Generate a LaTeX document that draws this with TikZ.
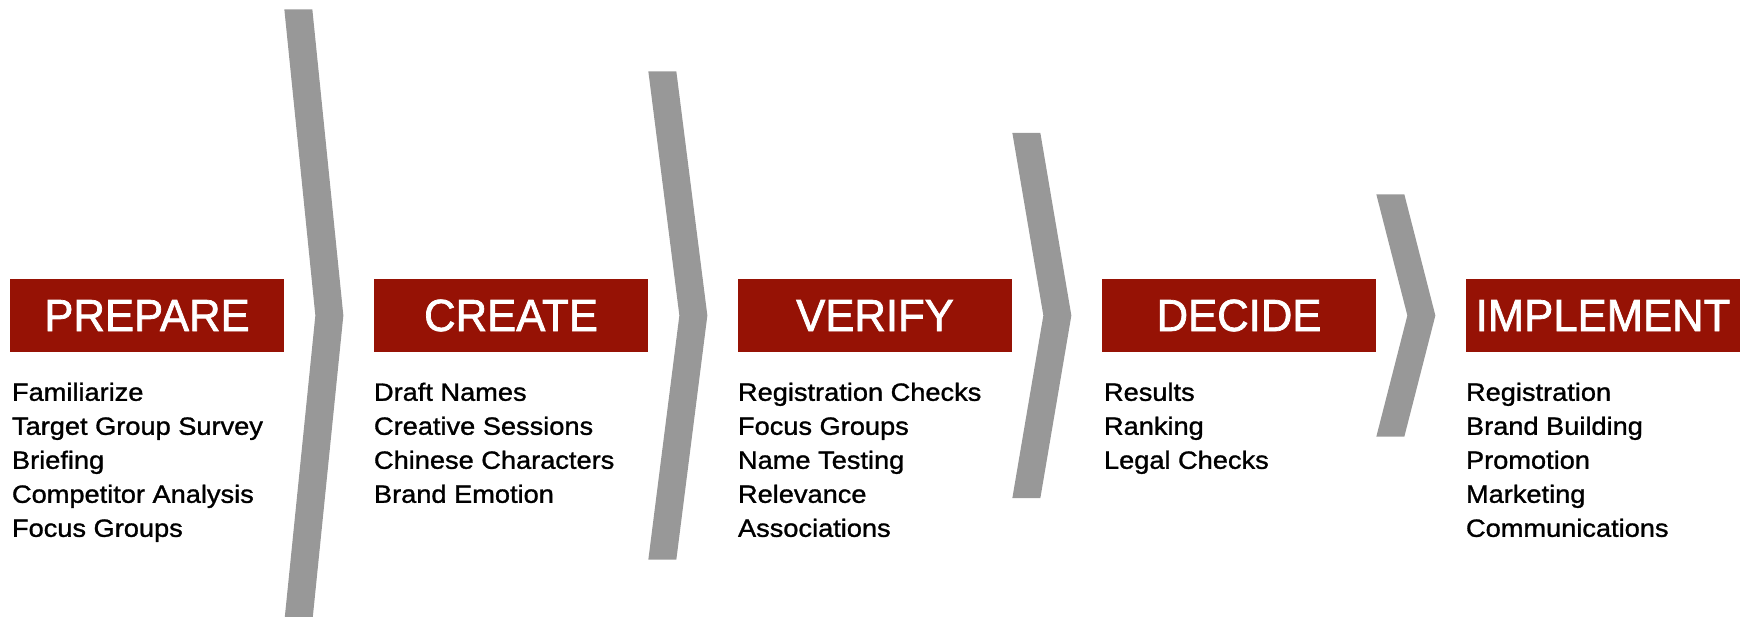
\documentclass[tikz,border=0pt]{standalone}
\usepackage{fontspec}
\setmainfont{Liberation Sans}
\newfontfamily\listfont[FakeStretch=1.09, FakeBold=1.2]{Liberation Sans}
\newfontfamily\phasefont[FakeStretch=0.97, FakeBold=1.6]{Liberation Sans}
\usepackage{xcolor}
\usetikzlibrary{positioning, calc}

\definecolor{boxred}{RGB}{150,18,5}
\definecolor{chevgray}{RGB}{152,152,152}

\begin{document}
\begin{tikzpicture}[
  every node/.style={font=\fontsize{14.2}{19.35}\selectfont},
  phase/.style={fill=boxred, text=white, minimum width=5.48cm, minimum height=1.46cm, inner sep=0pt,
    font=\phasefont\fontsize{25.6}{30}\selectfont, text height=0.65cm, text depth=0.03cm},
  items/.style={align=left, inner sep=0pt, font=\listfont\fontsize{14.2}{19.35}\selectfont},
  chevron/.style={fill=chevgray}
]
\useasboundingbox (0,0) rectangle (34.82,12.32);

% Phase boxes
\node[phase] (prepare) at (2.94, 6.01) {PREPARE};
\node[phase] (create) at (10.22, 6.01) {CREATE};
\node[phase] (verify) at (17.50, 6.01) {VERIFY};
\node[phase] (decide) at (24.78, 6.01) {DECIDE};
\node[phase] (implement) at (32.06, 6.01) {IMPLEMENT};

% Tasks under each phase
\node[items, below right=0.6cm and 0.04cm of prepare.south west] (prepitems)
  {Familiarize\\Target Group Survey\\Briefing\\Competitor Analysis\\Focus Groups};
\node[items, below right=0.6cm and 0cm of create.south west] (createitems)
  {Draft Names\\Creative Sessions\\Chinese Characters\\Brand Emotion};
\node[items, below right=0.6cm and 0cm of verify.south west] (verifyitems)
  {Registration Checks\\Focus Groups\\Name Testing\\Relevance\\Associations};
\node[items, below right=0.6cm and 0.04cm of decide.south west] (decideitems)
  {Results\\Ranking\\Legal Checks};
\node[items, below right=0.6cm and 0cm of implement.south west] (implitems)
  {Registration\\Brand Building\\Promotion\\Marketing\\Communications};

% Chevrons between phases, shorter towards the right
\foreach \a/\h in {prepare/6.12, create/4.88, verify/3.65, decide/2.42}
  \fill[chevron] ($(\a.east)+(0,\h)$) -- ++(0.56,0) -- ($(\a.east)+(1.18,0)$)
    -- ($(\a.east)+(0.56,-\h)$) -- ++(-0.56,0) -- ($(\a.east)+(0.62,0)$) -- cycle;

\end{tikzpicture}
\end{document}
